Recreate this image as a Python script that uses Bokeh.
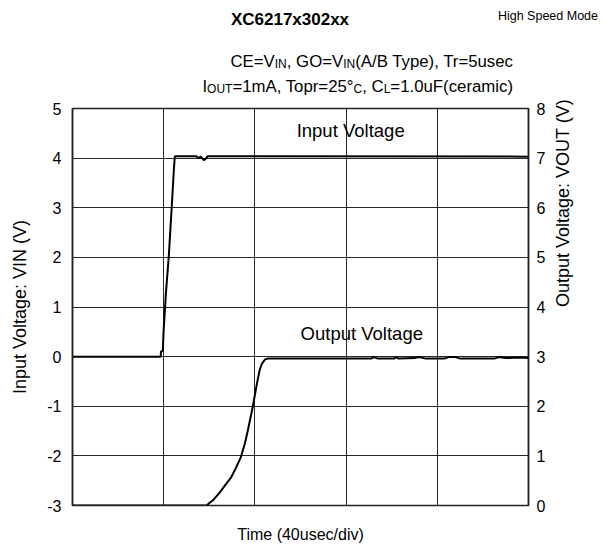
import math
from bokeh.plotting import figure
from bokeh.layouts import column
from bokeh.models import Range1d, LinearAxis, Label, FixedTicker, Div
from bokeh.embed import file_html
from bokeh.resources import INLINE

# ---------------- data ----------------
time_in = [0, 38.7, 38.8, 39.6, 40.0, 41.0, 42.2, 43.5, 44.5, 44.9, 54.1, 55.5, 56.3, 57.6, 58.3, 59.3, 200]
vin = [0, 0, 0.10, 0.12, 0.55, 1.30, 2.00, 3.00, 3.80, 4.04, 4.04, 4.00, 4.03, 3.96, 3.98, 4.04, 4.03]

time_out = [0, 58.9, 60.0, 61.5, 63.0, 64.2, 66.8, 69.5, 71.6, 73.8, 75.6, 76.9, 79.1, 80.9, 82.2,
            83.1, 84.4, 85.5, 131, 132, 134, 141, 142, 143, 150, 152, 155, 163, 165, 168, 170,
            185, 187, 190, 196, 200]
vout = [0, 0, 0.05, 0.10, 0.18, 0.24, 0.40, 0.56, 0.75, 0.97, 1.25, 1.51, 2.00, 2.46, 2.75,
        2.86, 2.94, 2.96, 2.96, 2.99, 2.96, 2.96, 2.99, 2.96, 2.97, 2.99, 2.96, 2.96, 2.99, 2.99, 2.96,
        2.96, 2.99, 2.97, 2.98, 2.97]

left_ticks = [-3, -2, -1, 0, 1, 2, 3, 4, 5]
left_tick_labels = ["-3", "-2", "-1", "0", "1", "2", "3", "4", "5"]
right_ticks = [0, 1, 2, 3, 4, 5, 6, 7, 8]
time_ticks = [0, 40, 80, 120, 160, 200]

title = "XC6217x302xx"
mode_text = "High Speed Mode"
cond1 = [("CE=V", "m"), ("IN", "s"), (", GO=V", "m"), ("IN", "s"), ("(A/B Type), Tr=5usec", "m")]
cond2 = [("I", "m"), ("OUT", "s"), ("=1mA, Topr=25\u00b0", "m"), ("C", "s"), (", C", "m"), ("L", "s"),
         ("=1.0uF(ceramic)", "m")]
x_label = "Time (40usec/div)"
yl_label = "Input Voltage: VIN (V)"
yr_label = "Output Voltage: VOUT (V)"
in_label = "Input Voltage"
out_label = "Output  Voltage"

FONT = "Liberation Sans"
W = 603
TOP_H = 98
MAIN_H = 449


# ---------------- heading strip (HTML for subscripts) ----------------
def seg_html(segs, main_px, sub_px):
    out = []
    for t, k in segs:
        if k == "m":
            out.append(f'<span style="font-size:{main_px}px">{t}</span>')
        else:
            out.append(f'<span style="font-size:{sub_px}px;position:relative;top:1px">{t}</span>')
    return "".join(out)


base = f"position:absolute;white-space:nowrap;font-family:'{FONT}';color:#000;margin:0;padding:0;"
html = (
    f'<div style="position:relative;width:{W}px;height:{TOP_H}px;margin:0;padding:0;overflow:hidden;">'
    f'<div style="{base}left:0;width:580px;top:10px;line-height:20px;text-align:center;'
    f'font-size:17px;font-weight:bold;">{title}</div>'
    f'<div style="{base}right:5px;top:7px;line-height:18px;text-align:right;font-size:12.5px;">{mode_text}</div>'
    f'<div style="{base}right:90px;top:52px;line-height:20px;text-align:right;">'
    f'{seg_html(cond1, 16.8, 12)}</div>'
    f'<div style="{base}right:90px;top:77px;line-height:20px;text-align:right;">'
    f'{seg_html(cond2, 16.8, 12)}</div>'
    '</div>'
)
hd = Div(text=html, width=W, height=TOP_H, margin=(0, 0, 0, 0))

# ---------------- main chart ----------------
p = figure(width=W, height=MAIN_H, output_backend="svg", toolbar_location=None,
           x_range=Range1d(0, 200), y_range=Range1d(-3, 5),
           min_border_left=72, min_border_right=75, min_border_top=10, min_border_bottom=42)
p.extra_y_ranges = {"right": Range1d(0, 8)}

p.outline_line_color = "#222222"
p.outline_line_width = 1.5

p.xaxis.ticker = FixedTicker(ticks=time_ticks)
p.xaxis.major_label_overrides = {t: "" for t in time_ticks}
p.xaxis.major_label_text_font_size = "1px"
p.xaxis.major_label_standoff = 0
p.xaxis.major_tick_in = 0
p.xaxis.major_tick_out = 0
p.xaxis.minor_tick_line_color = None
p.xaxis.axis_line_color = "#222222"
p.xaxis.axis_label = x_label
p.xaxis.axis_label_text_font = FONT
p.xaxis.axis_label_text_font_size = "16px"
p.xaxis.axis_label_text_font_style = "normal"
p.xaxis.axis_label_text_color = "black"
p.xaxis.axis_label_standoff = 20

p.yaxis.ticker = FixedTicker(ticks=left_ticks)
p.yaxis.major_label_overrides = {t: s for t, s in zip(left_ticks, left_tick_labels)}
p.yaxis.major_tick_in = 0
p.yaxis.major_tick_out = 0
p.yaxis.minor_tick_line_color = None
p.yaxis.axis_line_color = "#222222"
p.yaxis.axis_line_width = 1.5
p.yaxis.major_label_text_font = FONT
p.yaxis.major_label_text_font_size = "16px"
p.yaxis.major_label_text_color = "black"
p.yaxis.major_label_standoff = 11
p.yaxis.axis_label = yl_label
p.yaxis.axis_label_text_font = FONT
p.yaxis.axis_label_text_font_size = "18px"
p.yaxis.axis_label_text_font_style = "normal"
p.yaxis.axis_label_text_color = "black"
p.yaxis.axis_label_standoff = 14

ry = LinearAxis(y_range_name="right", ticker=FixedTicker(ticks=right_ticks))
ry.major_tick_in = 0
ry.major_tick_out = 0
ry.minor_tick_line_color = None
ry.axis_line_color = "#222222"
ry.axis_line_width = 1.5
ry.major_label_text_font = FONT
ry.major_label_text_font_size = "16px"
ry.major_label_text_color = "black"
ry.major_label_standoff = 8
ry.axis_label = yr_label
ry.axis_label_text_font = FONT
ry.axis_label_text_font_size = "18px"
ry.axis_label_text_font_style = "normal"
ry.axis_label_text_color = "black"
ry.axis_label_standoff = 15
ry.axis_label_orientation = math.pi / 2
p.add_layout(ry, "right")

p.xgrid.ticker = FixedTicker(ticks=time_ticks)
p.ygrid.ticker = FixedTicker(ticks=left_ticks)
for g in (p.xgrid, p.ygrid):
    g.grid_line_color = "#111111"
    g.grid_line_width = 1
    g.grid_line_alpha = 0.9

p.line(time_in, vin, line_color="black", line_width=2)
p.line(time_out, vout, line_color="black", line_width=2, y_range_name="right")

p.add_layout(Label(x=122, y=4.56, text=in_label, text_align="center", text_baseline="middle",
                   text_font=FONT, text_font_size="18.5px", text_color="black"))
p.add_layout(Label(x=128, y=0.47, text=out_label, text_align="center", text_baseline="middle",
                   text_font=FONT, text_font_size="18.5px", text_color="black"))

layout = column(hd, p, spacing=0)
open("out.html", "w").write(file_html(layout, INLINE))
